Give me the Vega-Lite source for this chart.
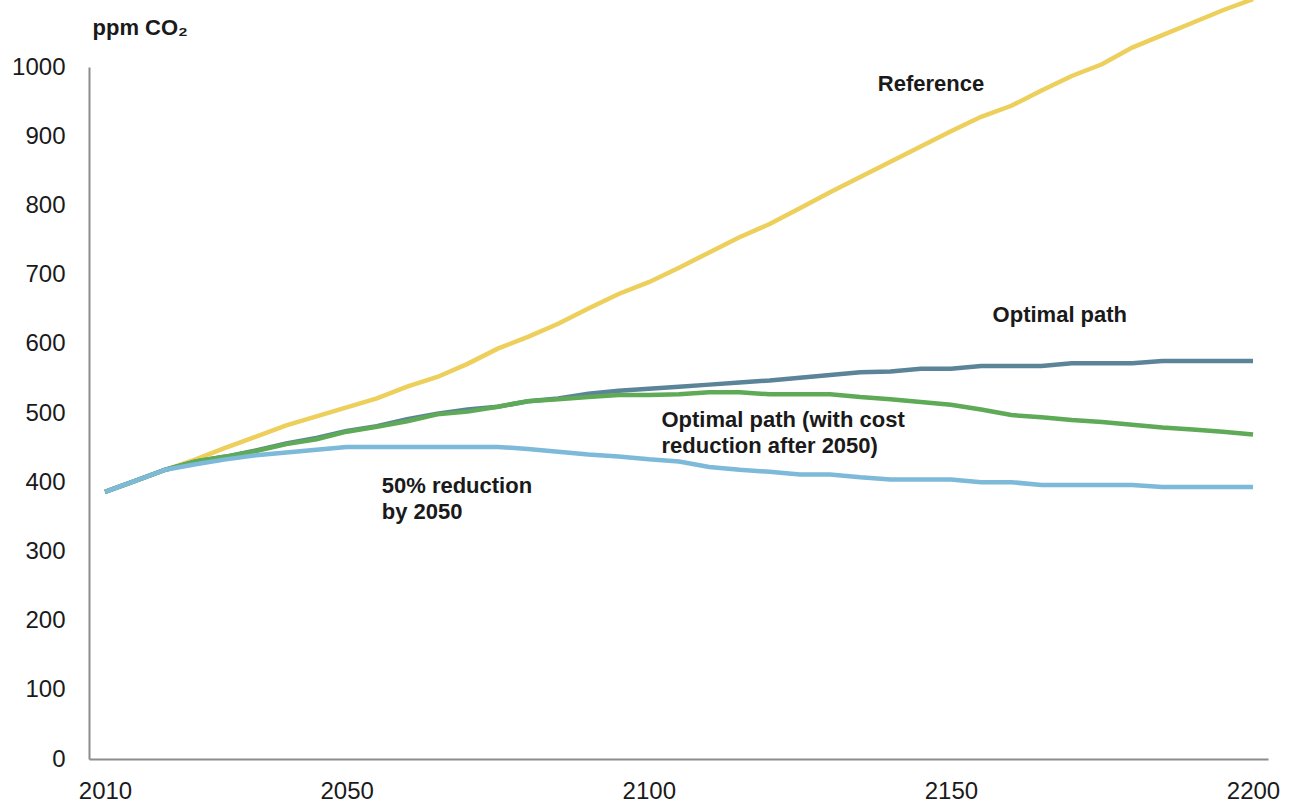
{
  "$schema": "https://vega.github.io/schema/vega-lite/v6.json",
  "width": 1179,
  "height": 692,
  "autosize": {"type": "none"},
  "padding": {"left": 89, "top": 67, "right": 25, "bottom": 45},
  "background": "white",
  "config": {"view": {"stroke": null}, "font": "Liberation Sans"},
  "datasets": {
    "ref": [
      {"year":2010,"ppm":386},{"year":2015,"ppm":402},{"year":2020,"ppm":418},{"year":2025,"ppm":433},{"year":2030,"ppm":450},{"year":2035,"ppm":466},{"year":2040,"ppm":482},{"year":2045,"ppm":495},{"year":2050,"ppm":508},{"year":2055,"ppm":521},{"year":2060,"ppm":538},{"year":2065,"ppm":552},{"year":2070,"ppm":571},{"year":2075,"ppm":593},{"year":2080,"ppm":610},{"year":2085,"ppm":629},{"year":2090,"ppm":651},{"year":2095,"ppm":672},{"year":2100,"ppm":689},{"year":2105,"ppm":710},{"year":2110,"ppm":732},{"year":2115,"ppm":754},{"year":2120,"ppm":773},{"year":2125,"ppm":796},{"year":2130,"ppm":819},{"year":2135,"ppm":841},{"year":2140,"ppm":863},{"year":2145,"ppm":885},{"year":2150,"ppm":907},{"year":2155,"ppm":928},{"year":2160,"ppm":944},{"year":2165,"ppm":966},{"year":2170,"ppm":987},{"year":2175,"ppm":1004},{"year":2180,"ppm":1028},{"year":2185,"ppm":1046},{"year":2190,"ppm":1064},{"year":2195,"ppm":1082},{"year":2200,"ppm":1098}
    ],
    "opt": [
      {"year":2010,"ppm":386},{"year":2015,"ppm":402},{"year":2020,"ppm":418},{"year":2025,"ppm":430},{"year":2030,"ppm":437},{"year":2035,"ppm":446},{"year":2040,"ppm":456},{"year":2045,"ppm":464},{"year":2050,"ppm":474},{"year":2055,"ppm":481},{"year":2060,"ppm":491},{"year":2065,"ppm":499},{"year":2070,"ppm":505},{"year":2075,"ppm":509},{"year":2080,"ppm":517},{"year":2085,"ppm":521},{"year":2090,"ppm":528},{"year":2095,"ppm":532},{"year":2100,"ppm":535},{"year":2105,"ppm":538},{"year":2110,"ppm":541},{"year":2115,"ppm":544},{"year":2120,"ppm":547},{"year":2125,"ppm":551},{"year":2130,"ppm":555},{"year":2135,"ppm":559},{"year":2140,"ppm":560},{"year":2145,"ppm":564},{"year":2150,"ppm":564},{"year":2155,"ppm":568},{"year":2160,"ppm":568},{"year":2165,"ppm":568},{"year":2170,"ppm":572},{"year":2175,"ppm":572},{"year":2180,"ppm":572},{"year":2185,"ppm":575},{"year":2190,"ppm":575},{"year":2195,"ppm":575},{"year":2200,"ppm":575}
    ],
    "optcost": [
      {"year":2010,"ppm":386},{"year":2015,"ppm":402},{"year":2020,"ppm":418},{"year":2025,"ppm":430},{"year":2030,"ppm":437},{"year":2035,"ppm":445},{"year":2040,"ppm":455},{"year":2045,"ppm":462},{"year":2050,"ppm":473},{"year":2055,"ppm":480},{"year":2060,"ppm":488},{"year":2065,"ppm":498},{"year":2070,"ppm":502},{"year":2075,"ppm":509},{"year":2080,"ppm":517},{"year":2085,"ppm":520},{"year":2090,"ppm":523},{"year":2095,"ppm":526},{"year":2100,"ppm":526},{"year":2105,"ppm":527},{"year":2110,"ppm":530},{"year":2115,"ppm":530},{"year":2120,"ppm":527},{"year":2125,"ppm":527},{"year":2130,"ppm":527},{"year":2135,"ppm":523},{"year":2140,"ppm":520},{"year":2145,"ppm":516},{"year":2150,"ppm":512},{"year":2155,"ppm":505},{"year":2160,"ppm":497},{"year":2165,"ppm":494},{"year":2170,"ppm":490},{"year":2175,"ppm":487},{"year":2180,"ppm":483},{"year":2185,"ppm":479},{"year":2190,"ppm":476},{"year":2195,"ppm":473},{"year":2200,"ppm":469}
    ],
    "half": [
      {"year":2010,"ppm":386},{"year":2015,"ppm":402},{"year":2020,"ppm":418},{"year":2025,"ppm":426},{"year":2030,"ppm":433},{"year":2035,"ppm":439},{"year":2040,"ppm":443},{"year":2045,"ppm":447},{"year":2050,"ppm":451},{"year":2055,"ppm":451},{"year":2060,"ppm":451},{"year":2065,"ppm":451},{"year":2070,"ppm":451},{"year":2075,"ppm":451},{"year":2080,"ppm":448},{"year":2085,"ppm":444},{"year":2090,"ppm":440},{"year":2095,"ppm":437},{"year":2100,"ppm":433},{"year":2105,"ppm":430},{"year":2110,"ppm":422},{"year":2115,"ppm":418},{"year":2120,"ppm":415},{"year":2125,"ppm":411},{"year":2130,"ppm":411},{"year":2135,"ppm":407},{"year":2140,"ppm":404},{"year":2145,"ppm":404},{"year":2150,"ppm":404},{"year":2155,"ppm":400},{"year":2160,"ppm":400},{"year":2165,"ppm":396},{"year":2170,"ppm":396},{"year":2175,"ppm":396},{"year":2180,"ppm":396},{"year":2185,"ppm":393},{"year":2190,"ppm":393},{"year":2195,"ppm":393},{"year":2200,"ppm":393}
    ],
    "labels": [
      {"year":2137.9,"ppm":965.8,"label":"Reference"},
      {"year":2156.9,"ppm":631,"label":"Optimal path"},
      {"year":2102.1,"ppm":479.3,"label":"Optimal path (with cost\nreduction after 2050)"},
      {"year":2055.8,"ppm":384,"label":"50% reduction\nby 2050"}
    ]
  },
  "encoding": {
    "x": {
      "field": "year", "type": "quantitative",
      "scale": {"domain": [2007.35, 2202.48], "nice": false, "zero": false},
      "axis": {
        "values": [2010, 2050, 2100, 2150, 2200], "format": "d", "title": null,
        "grid": false, "ticks": false, "tickSize": 0,
        "domainColor": "#8C8C8C", "domainWidth": 2,
        "labelFont": "Liberation Sans", "labelFontSize": 24, "labelColor": "#1a1a1a",
        "labelBaseline": "alphabetic", "labelPadding": 39, "labelFlush": false, "labelOverlap": false
      }
    },
    "y": {
      "field": "ppm", "type": "quantitative",
      "scale": {"domain": [0, 1000], "nice": false},
      "axis": {
        "values": [0,100,200,300,400,500,600,700,800,900,1000], "format": "d",
        "grid": false, "ticks": false, "tickSize": 0,
        "domainColor": "#8C8C8C", "domainWidth": 2,
        "labelFont": "Liberation Sans", "labelFontSize": 24, "labelColor": "#1a1a1a",
        "labelPadding": 24, "labelOverlap": false,
        "title": "ppm CO₂", "titleAngle": 0, "titleAlign": "left", "titleBaseline": "alphabetic",
        "titleX": 3, "titleY": -33, "titleFont": "Liberation Sans", "titleFontSize": 22,
        "titleFontWeight": "bold", "titleColor": "#1a1a1a"
      }
    }
  },
  "layer": [
    {"data": {"name": "ref"}, "mark": {"type": "line", "color": "#EDCF5C", "strokeWidth": 4.5}},
    {"data": {"name": "opt"}, "mark": {"type": "line", "color": "#5B8499", "strokeWidth": 4.5}},
    {"data": {"name": "optcost"}, "mark": {"type": "line", "color": "#5EAA57", "strokeWidth": 4.5}},
    {"data": {"name": "half"}, "mark": {"type": "line", "color": "#7DB9D8", "strokeWidth": 4.5}},
    {
      "data": {"name": "labels"},
      "mark": {"type": "text", "align": "left", "baseline": "alphabetic", "lineBreak": "\n", "lineHeight": 26, "font": "Liberation Sans", "fontSize": 22, "fontWeight": "bold", "color": "#1a1a1a"},
      "encoding": {"text": {"field": "label"}}
    }
  ]
}
